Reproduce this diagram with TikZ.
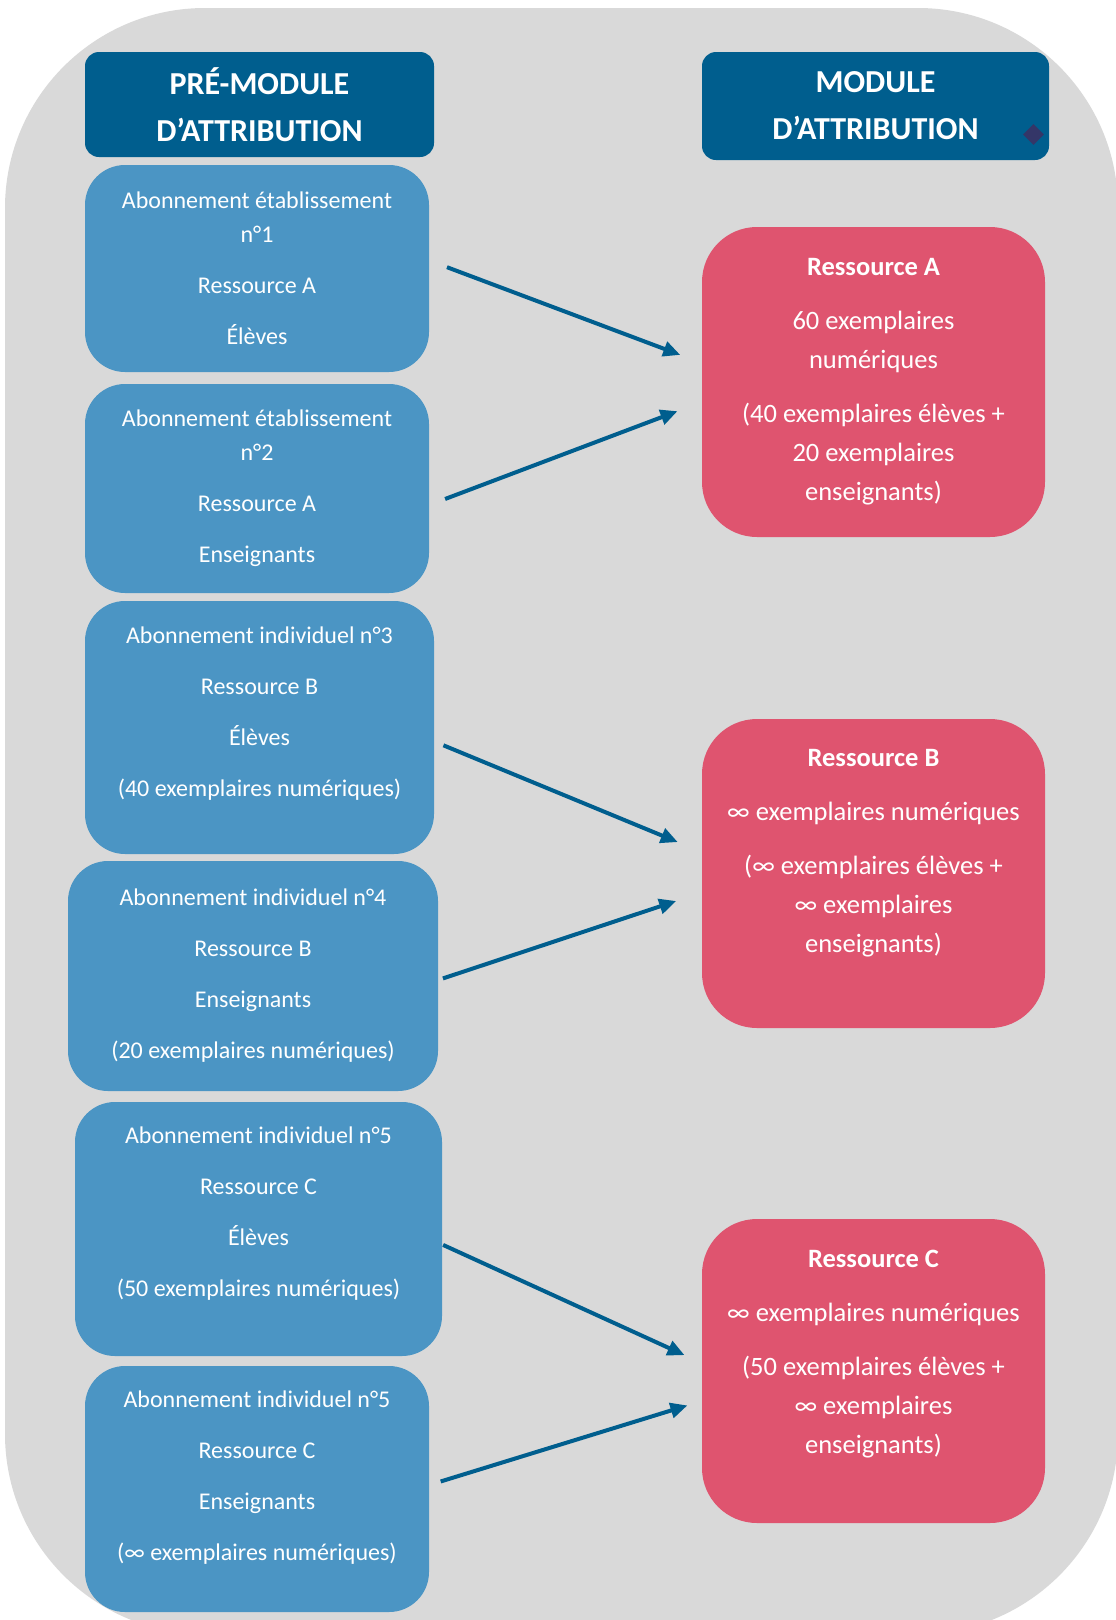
\documentclass[tikz,border=0pt]{standalone}
\usepackage{fontspec}
\setmainfont{Carlito}
\usetikzlibrary{arrows.meta,calc,shapes.geometric}
\definecolor{att_gray}{RGB}{217, 217, 217}
\definecolor{att_dark}{RGB}{0, 94, 142}
\definecolor{att_blue}{RGB}{75, 149, 196}
\definecolor{att_pink}{RGB}{223, 84, 111}
\definecolor{att_navy}{RGB}{52, 54, 104}
\tikzstyle{hd}=[rectangle,rounded corners=14pt,fill=att_dark,text=white,
  font=\bfseries\fontsize{32}{47}\selectfont,align=center,inner sep=0pt]
\tikzstyle{bn}=[rectangle,rounded corners=40pt,fill=att_blue,text=white,
  font=\fontsize{24}{34}\selectfont,align=center,inner sep=0pt]
\tikzstyle{pn}=[rectangle,rounded corners=55pt,fill=att_pink,text=white,
  font=\fontsize{26.5}{39}\selectfont,align=center,inner sep=0pt]
\tikzstyle{dm}=[diamond,fill=att_navy,inner sep=0pt,minimum size=21pt]
\tikzstyle{flow}=[-{Triangle[length=17pt,width=15pt]},draw=att_dark,
  line width=4pt]

\begin{document}
\begin{tikzpicture}[x=1pt, y=-1pt]
    \useasboundingbox (0, 0) rectangle (1116, 1620);
    \clip (0, 0) rectangle (1116, 1620);
    \fill [att_gray, rounded corners=200pt] (5, 8) rectangle (1118, 1634);
    \node [style=hd, minimum width=349pt, minimum height=105pt] (0) at (259.5, 104.5) {PRÉ-MODULE\\D’ATTRIBUTION};
    \node [style=hd, minimum width=347pt, minimum height=108pt] (1) at (875.5, 106) {MODULE\\D’ATTRIBUTION};
    \node [style=bn, minimum width=344pt, minimum height=207pt] (2) at (257, 268.5) {Abonnement établissement\\n°1\\[17pt]Ressource A\\[17pt]Élèves};
    \node [style=bn, minimum width=344pt, minimum height=209pt] (3) at (257, 488.5) {Abonnement établissement\\n°2\\[17pt]Ressource A\\[17pt]Enseignants};
    \node [style=bn, minimum width=349pt, minimum height=253pt] (4) at (259.5, 727.5) {Abonnement individuel n°3\\[17pt]Ressource B\\[17pt]Élèves\\[17pt](40 exemplaires numériques)\\[-2pt]\mbox{}};
    \node [style=bn, minimum width=370pt, minimum height=230pt] (5) at (253, 976) {Abonnement individuel n°4\\[17pt]Ressource B\\[17pt]Enseignants\\[17pt](20 exemplaires numériques)};
    \node [style=bn, minimum width=367pt, minimum height=254pt] (6) at (258.5, 1229) {Abonnement individuel n°5\\[17pt]Ressource C\\[17pt]Élèves\\[17pt](50 exemplaires numériques)\\\mbox{}};
    \node [style=bn, minimum width=344pt, minimum height=246pt] (7) at (257, 1489) {Abonnement individuel n°5\\[17pt]Ressource C\\[17pt]Enseignants\\[17pt](∞ exemplaires numériques)\\[-8pt]\mbox{}};
    \node [style=pn, minimum width=343pt, minimum height=310pt] (8) at (873.5, 382) {\textbf{Ressource A}\\[15pt]60 exemplaires\\numériques\\[15pt](40 exemplaires élèves +\\20 exemplaires\\enseignants)};
    \node [style=pn, minimum width=343pt, minimum height=309pt] (9) at (873.5, 873.5) {\textbf{Ressource B}\\[15pt]∞ exemplaires numériques\\[15pt](∞ exemplaires élèves +\\∞ exemplaires\\enseignants)\\[6pt]\mbox{}};
    \node [style=pn, minimum width=343pt, minimum height=304pt] (10) at (873.5, 1371) {\textbf{Ressource C}\\[15pt]∞ exemplaires numériques\\[15pt](50 exemplaires élèves +\\∞ exemplaires\\enseignants)\\\mbox{}};
    \node [style=dm] (11) at (1033.5, 134.5) {};
    \draw [style=flow, shorten <=19pt, shorten >=23pt] ($(2.east)+(0,-8)$) to ($(8.west)+(0,-19)$);
    \draw [style=flow, shorten <=17pt, shorten >=26pt] ($(3.east)+(0,16.5)$) to ($(8.west)+(0,20)$);
    \draw [style=flow, shorten <=10pt, shorten >=26pt] ($(4.east)+(0,14)$) to ($(9.west)+(0,-21.5)$);
    \draw [style=flow, shorten <=5pt, shorten >=27pt] ($(5.east)+(0,4)$) to ($(9.west)+(0,19)$);
    \draw [style=flow, shorten <=1pt, shorten >=19pt] ($(6.east)+(0,15.5)$) to ($(10.west)+(0,-8)$);
    \draw [style=flow, shorten <=12pt, shorten >=15pt] ($(7.east)+(0,-4)$) to ($(10.west)+(0,30)$);
\end{tikzpicture}
\end{document}
